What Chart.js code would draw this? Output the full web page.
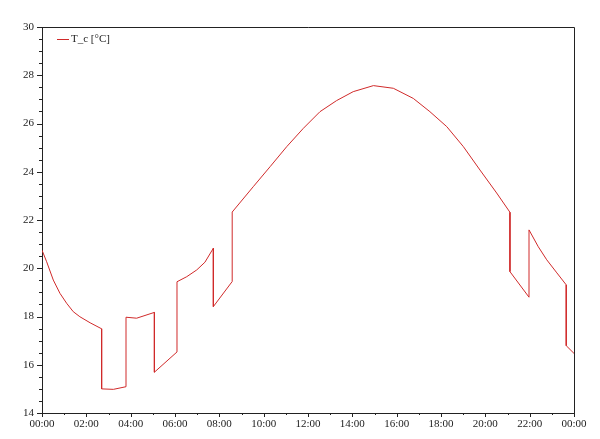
<!DOCTYPE html>
<html>
<head>
<meta charset="utf-8">
<script src="https://cdn.jsdelivr.net/npm/chart.js@4/dist/chart.umd.min.js"></script>
<style>
  html, body { margin: 0; padding: 0; background: #fff; }
  #wrap { width: 600px; height: 439px; position: relative; }
</style>
</head>
<body>
<div id="wrap"><canvas id="tcchart"></canvas></div>
<script>
// hours of the day and the temperature
var hours = [0, 0.21, 0.51, 0.81, 1.11, 1.41, 1.71, 2.17, 2.69, 2.69, 3.22, 3.79, 3.79, 4.27, 5.07, 5.07, 6.09, 6.09, 6.53, 6.98, 7.35, 7.73, 7.73, 8.58, 8.58, 9.53, 10.29, 11.04, 11.79, 12.54, 13.29, 14.04, 14.95, 15.85, 16.75, 17.50, 18.26, 19.01, 19.76, 20.51, 21.11, 21.11, 21.97, 21.97, 22.39, 22.77, 23.2, 23.65, 23.65, 24]
var tempc = [20.75, 20.27, 19.51, 18.96, 18.55, 18.20, 17.99, 17.74, 17.49, 15.00, 14.98, 15.09, 17.97, 17.93, 18.17, 15.69, 16.53, 19.44, 19.65, 19.93, 20.25, 20.83, 18.41, 19.45, 22.33, 23.38, 24.21, 25.04, 25.80, 26.49, 26.95, 27.32, 27.57, 27.46, 27.04, 26.49, 25.87, 25.04, 24.07, 23.12, 22.32, 19.86, 18.80, 21.59, 20.89, 20.35, 19.84, 19.31, 16.79, 16.47]
var seriesLabel = 'T_c [°C]'
var xMajor = [0, 2, 4, 6, 8, 10, 12, 14, 16, 18, 20, 22, 24]
var yMajor = [14, 16, 18, 20, 22, 24, 26, 28, 30]

var lineColor = '#d02a2a'
var axisFont = { family: '"Liberation Serif", "DejaVu Serif", serif', size: 11 }

function hourLabel(v) {
    var h = v % 24
    return (h < 10 ? '0' : '') + h + ':00'
}

// frame, minor ticks and the legend inside the plot
var framePlugin = {
    id: 'frame',
    afterDraw(chart) {
        let ctx = chart.ctx
        let a = chart.chartArea
        let xs = chart.scales.x, ys = chart.scales.y
        ctx.save()
        ctx.strokeStyle = '#222'
        ctx.lineWidth = 1
        ctx.beginPath()
        ctx.moveTo(a.left, a.top + 0.5); ctx.lineTo(a.right + 0.5, a.top + 0.5)
        ctx.lineTo(a.right + 0.5, a.bottom)
        ctx.stroke()

        ctx.beginPath()
        for (let v = 14; v <= 30.001; v += 0.5) {
            let y = Math.round(ys.getPixelForValue(v)) + 0.5
            let len = (v % 2 === 0) ? 5 : 3
            ctx.moveTo(a.left - len, y); ctx.lineTo(a.left, y)
        }
        for (let h = 0; h <= 24; h += 1) {
            let x = Math.round(xs.getPixelForValue(h)) + 0.5
            let len = (h % 2 === 0) ? 4 : 2
            ctx.moveTo(x, a.bottom); ctx.lineTo(x, a.bottom + len)
        }
        ctx.stroke()

        let lx = a.left + 15, ly = a.top + 12.5
        ctx.strokeStyle = lineColor
        ctx.beginPath()
        ctx.moveTo(lx, ly); ctx.lineTo(lx + 12, ly)
        ctx.stroke()
        ctx.fillStyle = '#222'
        ctx.font = '11px "Liberation Serif", "DejaVu Serif", serif'
        ctx.textBaseline = 'middle'
        ctx.fillText(seriesLabel, lx + 14, ly)
        ctx.restore()
    }
}

var tcdata = {
    datasets: [
        {
            label: seriesLabel,
            data: hours.map((h, i) => ({ x: h, y: tempc[i] })),
            borderColor: lineColor,
            borderWidth: 1,
            pointRadius: 0,
            tension: 0,
            fill: false
        }
    ]
}

const tcconfig = {
    type: 'line',
    data: tcdata,
    options: {
        responsive: true,
        maintainAspectRatio: false,
        animation: false,
        layout: { padding: { top: 27, right: 26, left: 0, bottom: 0 } },
        scales: {
            x: {
                type: 'linear',
                min: 0,
                max: 24,
                afterFit(scale) { scale.height = 26 },
                afterBuildTicks(scale) { scale.ticks = xMajor.map(v => ({ value: v })) },
                border: { color: '#222', width: 1 },
                grid: { display: false, drawTicks: false },
                ticks: { color: '#222', font: axisFont, padding: 5, maxRotation: 0, autoSkip: false, callback: v => hourLabel(v) }
            },
            y: {
                min: 14,
                max: 30,
                afterFit(scale) { scale.width = 42 },
                afterBuildTicks(scale) { scale.ticks = yMajor.map(v => ({ value: v })) },
                border: { color: '#222', width: 1 },
                grid: { display: false, drawTicks: false },
                ticks: { color: '#222', font: axisFont, padding: 8 }
            }
        },
        plugins: {
            legend: { display: false },
            tooltip: { enabled: false }
        }
    },
    plugins: [framePlugin]
}

new Chart(document.getElementById('tcchart'), tcconfig)
</script>
</body>
</html>
